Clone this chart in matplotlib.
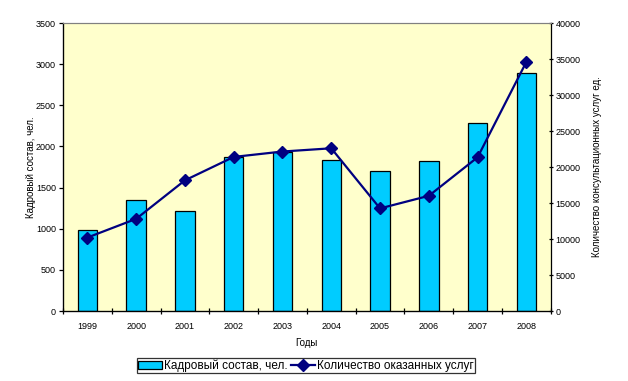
import numpy as np
import matplotlib
matplotlib.use("Agg")
import matplotlib.pyplot as plt
import matplotlib.ticker as tick

plt.rcParams['font.family'] = ['Liberation Sans', 'DejaVu Sans']

# данные
years = ['1999', '2000', '2001', '2002', '2003', '2004', '2005', '2006', '2007', '2008']
staff = [990, 1355, 1210, 1870, 1935, 1840, 1700, 1820, 2280, 2890]
services = [10200, 12800, 18150, 21400, 22150, 22600, 14250, 16000, 21350, 34600]

fig = plt.figure(figsize=(6.28, 3.81), dpi=100)
ax = fig.add_axes([0.1003, 0.1837, 0.7767, 0.7559])
ax.set_facecolor('#FFFFCC')

x = np.arange(len(years))
bars = ax.bar(x, staff, width=0.4, color='#00CCFF', edgecolor='black', linewidth=0.9,
              label='Кадровый состав, чел.', zorder=2)
ax.set_xlim(-0.5, len(years) - 0.5)
ax.set_ylim(0, 3500)
ax.set_yticks(np.arange(0, 3501, 500))
ax.set_xticks(x)
ax.set_xticklabels(years)
ax.xaxis.set_minor_locator(tick.FixedLocator(np.arange(-0.5, len(years), 1)))
ax.tick_params(axis='x', which='major', length=0, pad=8, labelsize=6.5)
ax.tick_params(axis='x', which='minor', length=4, width=0.9, direction='inout')
ax.tick_params(axis='y', length=3, width=0.9, labelsize=6.5, pad=2)
ax.set_xlabel('Годы', fontsize=7, labelpad=5)
ax.set_ylabel('Кадровый состав, чел.', fontsize=7, labelpad=0)
for s in ['left', 'bottom']:
    ax.spines[s].set_linewidth(0.9)
ax.spines['top'].set_color('#808080')
ax.spines['right'].set_visible(False)

ax2 = ax.twinx()
line, = ax2.plot(x, services, color='#000080', linewidth=1.6, marker='D', markersize=6.5,
                 label='Количество оказанных услуг', zorder=3)
ax2.set_ylim(0, 40000)
ax2.set_yticks(np.arange(0, 40001, 5000))
ax2.tick_params(axis='y', length=3, width=0.9, labelsize=6.5, pad=2, direction='inout')
ax2.set_ylabel('Количество консультационных услуг ед.', fontsize=7, labelpad=8)
ax2.spines['right'].set_linewidth(0.9)
ax2.spines['top'].set_color('#808080')

leg = fig.legend(handles=[bars, line], loc='center', bbox_to_anchor=(0.487, 0.04), ncol=2,
                 fontsize=8.5, frameon=True, fancybox=False, edgecolor='black',
                 borderpad=0.1, handlelength=2.0, handletextpad=0.2, columnspacing=0.3)
leg.get_frame().set_linewidth(0.9)

fig.savefig('out.png', dpi=100)
